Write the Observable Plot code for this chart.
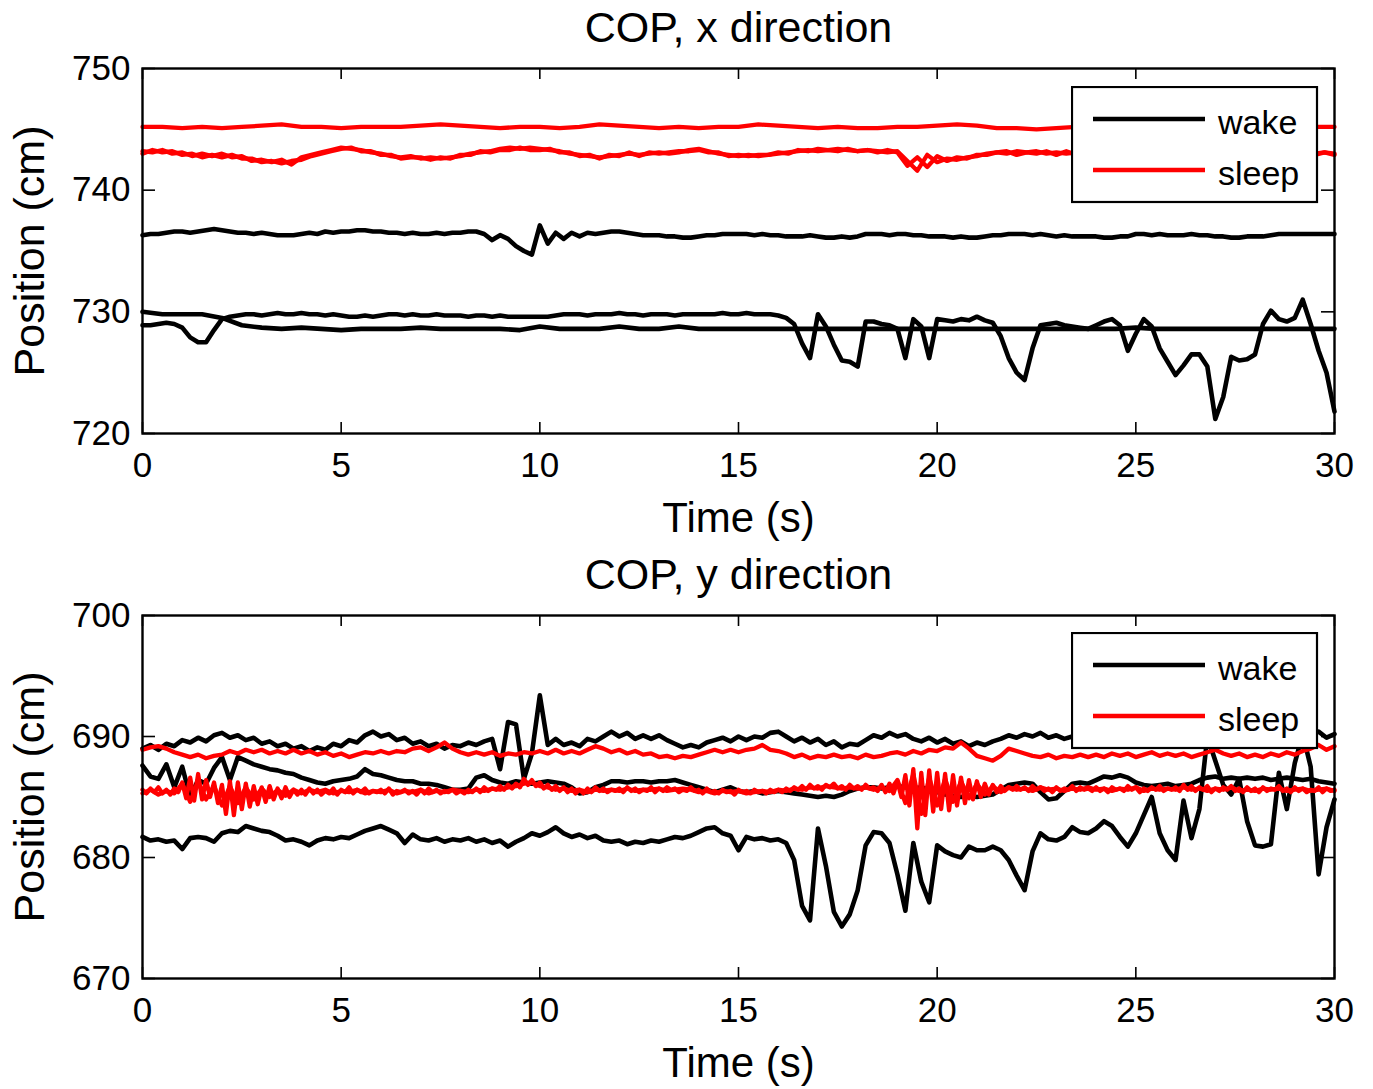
<!DOCTYPE html>
<html>
<head>
<meta charset="utf-8">
<script src="https://cdn.jsdelivr.net/npm/d3@7"></script>
<script src="https://cdn.jsdelivr.net/npm/@observablehq/plot@0.6"></script>
<style>
  html, body { margin: 0; padding: 0; background: #fff; }
  #fig { position: relative; width: 1373px; height: 1089px; overflow: hidden; background: #fff; }
  #fig > div, #fig > svg { position: absolute; }
</style>
</head>
<body>
<div id="fig"></div>
<script>
// ---------------- data ----------------
const timeDomain = [0, 30];
const xTicks = [0, 5, 10, 15, 20, 25, 30];
const yTicksX = [720, 730, 740, 750];
const yTicksY = [670, 680, 690, 700];
const titles = ["COP, x direction", "COP, y direction"];
const xLabel = "Time (s)";
const yLabel = "Position (cm)";
const legendLabels = ["wake", "sleep"];

// COP x direction, wake trials (evenly sampled over 0–30 s)
const wakeX1 = [
  736.3, 736.4, 736.4, 736.5, 736.6, 736.6, 736.5, 736.6, 736.7, 736.8,
  736.7, 736.6, 736.5, 736.5, 736.4, 736.5, 736.4, 736.3, 736.3, 736.3,
  736.4, 736.5, 736.4, 736.6, 736.5, 736.6, 736.6, 736.7, 736.7, 736.6,
  736.6, 736.5, 736.5, 736.4, 736.5, 736.4, 736.4, 736.5, 736.4, 736.5,
  736.5, 736.6, 736.6, 736.4, 735.9, 736.3, 736.0, 735.4, 735.0, 734.7,
  737.1, 735.6, 736.5, 736.0, 736.5, 736.2, 736.5, 736.4, 736.5, 736.6,
  736.6, 736.5, 736.4, 736.3, 736.3, 736.3, 736.2, 736.2, 736.1, 736.1,
  736.2, 736.3, 736.3, 736.4, 736.4, 736.4, 736.4, 736.3, 736.4, 736.3,
  736.3, 736.2, 736.2, 736.2, 736.3, 736.2, 736.1, 736.1, 736.2, 736.1,
  736.2, 736.4, 736.4, 736.4, 736.3, 736.4, 736.4, 736.3, 736.3, 736.2,
  736.2, 736.2, 736.1, 736.2, 736.1, 736.1, 736.2, 736.3, 736.3, 736.4,
  736.4, 736.4, 736.3, 736.4, 736.3, 736.2, 736.3, 736.2, 736.2, 736.2,
  736.2, 736.1, 736.1, 736.2, 736.2, 736.4, 736.4, 736.3, 736.4, 736.3,
  736.3, 736.3, 736.4, 736.3, 736.3, 736.2, 736.2, 736.1, 736.1, 736.2,
  736.2, 736.2, 736.3, 736.4, 736.4, 736.4, 736.4, 736.4, 736.4, 736.4,
  736.4
];
const wakeX2 = [
  730.0, 729.8, 729.8, 729.8,
  729.5, 728.9, 728.7, 728.6,
  728.7, 728.6, 728.5, 728.6,
  728.6, 728.6, 728.7, 728.6,
  728.6, 728.6, 728.6, 728.5,
  728.8, 728.6, 728.6, 728.6,
  728.8, 728.6, 728.6, 728.8,
  728.6, 728.6, 728.6, 728.6,
  728.6, 728.6, 728.6, 728.6,
  728.6, 728.6, 728.6, 728.6,
  728.6, 728.6, 728.6, 728.6,
  728.6, 728.6, 728.6, 728.6,
  728.6, 728.6, 728.7, 728.6,
  728.6, 728.6, 728.6, 728.6,
  728.6, 728.6, 728.6, 728.6,
  728.6
];
const wakeX3 = [
  728.9, 728.9, 729.0, 729.1, 729.0, 728.7, 727.9, 727.5, 727.5, 728.5,
  729.4, 729.6, 729.7, 729.8, 729.8, 729.7, 729.8, 729.9, 729.8, 729.8,
  729.9, 729.8, 729.8, 729.7, 729.8, 729.7, 729.6, 729.6, 729.7, 729.6,
  729.7, 729.8, 729.8, 729.7, 729.8, 729.7, 729.7, 729.8, 729.7, 729.7,
  729.7, 729.6, 729.7, 729.7, 729.6, 729.7, 729.6, 729.6, 729.6, 729.6,
  729.6, 729.6, 729.7, 729.8, 729.8, 729.8, 729.7, 729.8, 729.8, 729.8,
  729.9, 729.8, 729.8, 729.7, 729.8, 729.8, 729.8, 729.7, 729.8, 729.8,
  729.8, 729.8, 729.8, 729.9, 729.8, 729.8, 729.9, 729.8, 729.8, 729.8,
  729.7, 729.5, 729.0, 727.4, 726.2, 729.8, 728.8, 727.3, 726.0, 725.9,
  725.5, 729.2, 729.2, 729.0, 728.9, 728.6, 726.2, 729.4, 728.8, 726.2,
  729.4, 729.3, 729.2, 729.4, 729.3, 729.6, 729.3, 729.1, 728.0, 726.2,
  725.0, 724.4, 727.0, 728.9, 729.0, 729.1, 728.9, 728.8, 728.7, 728.6,
  728.9, 729.2, 729.4, 728.9, 726.8, 728.2, 729.4, 728.8, 727.0, 725.9,
  724.8, 725.6, 726.5, 726.5, 725.5, 721.2, 723.0, 726.3, 726.0, 726.1,
  726.5, 729.0, 730.1, 729.4, 729.2, 729.5, 731.0, 729.0, 726.8, 725.0,
  721.8
];

// COP x direction, sleep trials
const sleepX1 = [
  745.2, 745.2, 745.1, 745.2,
  745.1, 745.2, 745.3, 745.4,
  745.2, 745.2, 745.1, 745.2,
  745.2, 745.2, 745.3, 745.4,
  745.3, 745.2, 745.1, 745.2,
  745.2, 745.1, 745.2, 745.4,
  745.3, 745.2, 745.1, 745.2,
  745.1, 745.2, 745.2, 745.4,
  745.3, 745.2, 745.1, 745.2,
  745.1, 745.1, 745.2, 745.2,
  745.3, 745.4, 745.3, 745.1,
  745.1, 745.0, 745.1, 745.2,
  745.2, 745.3, 745.2, 745.2,
  745.2, 745.2, 745.1, 745.2,
  745.2, 745.1, 745.2, 745.2,
  745.2
];
const sleepX2 = [
  743.2, 743.1, 743.3, 743.0, 743.1, 742.8, 743.0, 742.8,
  743.0, 742.7, 742.8, 742.4, 742.5, 742.3, 742.5, 742.1,
  742.7, 742.9, 743.1, 743.3, 743.5, 743.4, 743.3, 743.1,
  743.0, 742.8, 742.7, 742.8, 742.6, 742.7, 742.6, 742.7,
  742.8, 743.0, 743.1, 743.2, 743.4, 743.5, 743.4, 743.5,
  743.4, 743.3, 743.2, 743.0, 742.9, 742.8, 742.7, 742.8,
  742.9, 743.0, 742.9, 743.0, 743.1, 743.0, 743.1, 743.3,
  743.4, 743.2, 743.0, 742.9, 742.8, 742.9, 742.8, 742.9,
  743.0, 743.1, 743.2, 743.3, 743.2, 743.3, 743.4, 743.3,
  743.2, 743.3, 743.2, 743.1, 743.2, 742.4, 741.6, 742.9,
  742.3, 742.6, 742.5, 742.7, 742.8, 743.0, 743.1, 743.0,
  743.2, 743.1, 743.2, 743.0, 743.1, 743.0, 743.1, 743.0,
  742.9, 743.0, 743.1, 743.0, 742.9, 743.0, 743.1, 743.0,
  743.0, 742.9, 743.0, 743.1, 743.0, 742.9, 743.0, 743.1,
  743.0, 742.9, 743.0, 743.1, 743.0, 742.9, 743.0, 743.1,
  743.0
];
const sleepX3 = [
  743.0, 743.3, 743.1, 743.2, 742.9, 743.0, 742.7, 742.9,
  742.7, 742.9, 742.6, 742.6, 742.3, 742.4, 742.2, 742.4,
  742.5, 742.8, 743.0, 743.2, 743.4, 743.5, 743.2, 743.2,
  742.9, 742.9, 742.6, 742.7, 742.7, 742.5, 742.7, 742.6,
  742.9, 742.9, 743.2, 743.1, 743.3, 743.3, 743.5, 743.3,
  743.3, 743.4, 743.1, 743.1, 742.8, 742.9, 742.6, 742.9,
  742.8, 743.1, 742.8, 743.1, 743.0, 743.1, 743.2, 743.2,
  743.3, 743.1, 743.1, 742.8, 742.9, 742.8, 742.9, 742.9,
  743.1, 743.0, 743.3, 743.2, 743.4, 743.3, 743.2, 743.4,
  743.2, 743.3, 743.1, 743.3, 743.1, 742.0, 742.7, 741.9,
  742.8, 742.4, 742.7, 742.6, 742.9, 742.9, 743.1, 743.2,
  742.9, 743.1, 743.0, 743.2, 742.9, 743.2, 742.9, 743.1,
  743.0, 742.9, 743.1, 742.9, 743.1, 743.0, 742.9, 743.1,
  742.9, 743.0, 743.1, 742.9, 743.0, 743.1, 742.9, 743.0,
  743.1, 742.9, 743.0, 743.1, 742.9, 743.0, 742.9, 743.1,
  742.9
];

// COP y direction, wake trials
const wakeY1 = [
  689.0, 689.3, 688.9, 689.4, 689.2, 689.7, 689.5, 689.9, 689.6, 690.1,
  690.3, 689.9, 690.1, 689.7, 689.9, 689.4, 689.6, 689.2, 689.4, 689.0,
  689.2, 688.8, 689.1, 688.9, 689.4, 689.2, 689.7, 689.5, 690.1, 690.4,
  690.0, 690.2, 689.7, 689.9, 689.4, 689.6, 689.2, 689.4, 689.0, 689.3,
  689.2, 689.5, 689.3, 689.6, 689.8, 687.3, 691.2, 691.0, 686.5, 688.6,
  693.4, 689.3, 689.8, 689.3, 689.5, 689.2, 689.8, 689.6, 690.0, 690.4,
  690.0, 690.3, 689.8, 690.1, 689.8, 690.1, 689.7, 689.4, 689.1, 689.3,
  689.1, 689.5, 689.7, 689.9, 689.6, 690.0, 689.7, 690.0, 689.9, 690.3,
  690.4, 690.0, 689.6, 689.9, 689.5, 689.8, 689.3, 689.6, 689.1, 689.4,
  689.3, 689.7, 690.1, 689.9, 690.3, 690.0, 690.2, 689.8, 689.6, 689.9,
  689.5, 689.8, 689.4, 689.6, 689.2, 689.5, 689.3, 689.6, 689.8, 690.1,
  689.9, 690.2, 690.0, 690.3, 689.9, 690.1, 689.8, 690.0, 689.7, 689.9,
  689.8, 690.1, 689.9, 690.2, 689.8, 690.0, 689.7, 689.9, 689.6, 689.9,
  689.7, 690.0, 689.8, 690.1, 689.9, 690.2, 689.8, 690.0, 689.7, 689.9,
  689.8, 690.0, 689.7, 690.1, 689.9, 690.3, 690.0, 690.2, 690.4, 689.9,
  690.2
];
const wakeY2 = [
  687.6, 686.7, 686.5, 687.7, 685.8, 687.5, 685.0, 686.4, 686.1, 687.4,
  688.3, 686.4, 688.3, 688.0, 687.7, 687.5, 687.3, 687.2, 687.0, 686.9,
  686.6, 686.4, 686.2, 686.1, 686.3, 686.4, 686.5, 686.7, 687.3, 686.9,
  686.8, 686.6, 686.4, 686.3, 686.3, 686.1, 686.1, 686.0, 685.8, 685.6,
  685.6, 685.7, 686.6, 686.8, 686.4, 686.2, 686.1, 686.3, 686.2, 686.1,
  686.2, 686.3, 686.2, 686.1, 685.8, 685.3, 685.4, 685.8, 686.0, 686.3,
  686.3, 686.2, 686.3, 686.3, 686.2, 686.3, 686.3, 686.4, 686.2, 686.0,
  685.8, 685.6, 685.4, 685.6, 685.8, 685.5, 685.4, 685.5, 685.3, 685.4,
  685.5, 685.4, 685.3, 685.2, 685.1, 685.0, 685.1, 685.0, 685.2, 685.5,
  685.7, 685.8, 685.8, 685.7, 685.8, 685.9, 685.8, 685.7, 685.8, 685.6,
  685.4, 685.2, 685.1, 685.0, 685.1, 685.0, 685.1, 685.2, 685.6, 686.0,
  686.1, 686.2, 686.1, 685.4, 684.8, 684.9, 685.5, 686.1, 686.2, 686.1,
  686.4, 686.7, 686.6, 686.8, 686.6, 686.2, 686.0, 685.9, 686.0, 686.1,
  685.9, 686.0, 686.1, 686.4, 686.6, 686.7, 686.5, 686.6, 686.5, 686.6,
  686.5, 686.6, 686.4, 686.5, 686.6, 686.5, 686.4, 686.5, 686.3, 686.2,
  686.1
];
const wakeY3 = [
  681.7, 681.4, 681.5, 681.3, 681.4, 680.7, 681.6, 681.7, 681.6, 681.3,
  682.0, 682.2, 682.1, 682.6, 682.4, 682.2, 682.1, 681.8, 681.4, 681.5,
  681.3, 681.0, 681.4, 681.6, 681.5, 681.7, 681.6, 681.9, 682.2, 682.4,
  682.6, 682.3, 682.0, 681.2, 681.9, 681.5, 681.4, 681.6, 681.3, 681.5,
  681.4, 681.6, 681.3, 681.5, 681.2, 681.4, 680.9, 681.3, 681.6, 682.0,
  681.8, 682.1, 682.5, 682.0, 681.7, 681.9, 681.6, 681.8, 681.4, 681.3,
  681.4, 681.1, 681.3, 681.2, 681.4, 681.3, 681.5, 681.7, 681.6, 681.8,
  682.1, 682.4, 682.5, 682.0, 681.8, 680.6, 681.7, 681.5, 681.6, 681.4,
  681.5, 681.2, 679.8, 676.0, 674.8, 682.4, 679.3, 675.5, 674.3, 675.3,
  677.3, 681.0, 682.1, 682.0, 681.2, 678.6, 675.6, 681.2, 678.0, 676.3,
  681.0, 680.5, 680.2, 680.0, 680.9, 680.6, 680.6, 680.9, 680.6, 679.8,
  678.5, 677.3, 680.5, 682.0, 681.5, 681.4, 681.7, 682.5, 682.1, 682.0,
  682.4, 683.0, 682.6, 681.7, 680.9, 682.0, 683.5, 685.0, 682.0, 680.6,
  679.8, 684.7, 681.6, 684.0, 690.0, 688.0, 686.0, 685.2, 686.5, 683.0,
  681.0, 680.9, 681.1, 687.0, 684.0, 687.8, 690.2, 687.5, 678.6, 682.5,
  684.8
];

// COP y direction, sleep trials
const sleepY1 = [
  688.9, 689.1, 689.2, 689.0, 688.7, 688.5, 688.3, 688.5, 688.2, 688.4,
  688.5, 688.8, 688.6, 688.9, 688.7, 688.9, 688.6, 688.8, 688.6, 688.9,
  688.6, 688.8, 688.5, 688.7, 688.4, 688.6, 688.3, 688.5, 688.7, 688.6,
  688.8, 688.6, 688.8, 688.7, 689.0, 689.1, 688.8, 689.1, 689.5, 689.0,
  688.7, 688.5, 688.7, 688.5, 688.7, 688.4, 688.6, 688.5, 688.7, 688.6,
  688.8, 688.6, 688.9, 688.6, 688.8, 688.6, 688.9, 689.2, 689.0, 688.7,
  688.9, 688.6, 688.8, 688.5, 688.6, 688.3, 688.4, 688.2, 688.4, 688.3,
  688.5, 688.7, 688.9, 688.7, 688.9, 688.7, 688.9, 689.0, 689.3, 688.9,
  688.8, 688.6, 688.3, 688.5, 688.2, 688.4, 688.3, 688.5, 688.3, 688.4,
  688.2, 688.5, 688.3, 688.4, 688.6, 688.7, 688.5, 688.8, 688.6, 688.9,
  688.8, 689.1, 689.0, 689.5, 689.0, 688.4, 688.2, 688.0, 688.4, 689.0,
  688.8, 688.6, 688.4, 688.3, 688.5, 688.2, 688.4, 688.3, 688.5, 688.3,
  688.5, 688.3, 688.6, 688.4, 688.6, 688.3, 688.5, 688.7, 688.4, 688.6,
  688.4, 688.6, 688.3, 688.5, 688.7, 688.9, 688.6, 688.4, 688.6, 688.3,
  688.5, 688.3, 688.6, 688.4, 688.7, 688.5, 688.8, 689.0, 689.3, 688.9,
  689.2
];
const sleepY2 = [
  685.6, 685.3, 685.7, 685.4, 685.8, 685.3, 685.6, 685.2, 685.7, 685.4, 686.2, 684.9, 686.6, 684.7, 686.9, 684.8, 686.4, 685.0, 686.2, 684.5,
  686.0, 683.6, 686.3, 683.5, 686.2, 684.0, 686.1, 684.2, 685.9, 684.4, 685.8, 684.6, 685.9, 684.8, 685.7, 684.9, 685.8, 685.0, 685.6, 685.2,
  685.6, 685.2, 685.7, 685.3, 685.6, 685.2, 685.5, 685.3, 685.7, 685.2, 685.6, 685.4, 685.8, 685.3, 685.6, 685.4, 685.7, 685.3, 685.5, 685.4,
  685.6, 685.3, 685.7, 685.2, 685.5, 685.4, 685.6, 685.3, 685.5, 685.2, 685.6, 685.3, 685.7, 685.4, 685.6, 685.3, 685.5, 685.4, 685.6, 685.3,
  685.5, 685.3, 685.6, 685.4, 685.7, 685.4, 685.8, 685.5, 685.7, 685.6, 685.9, 685.6, 686.0, 685.7, 686.1, 685.8, 686.5, 686.0, 686.4, 685.9,
  686.2, 685.7, 686.0, 685.6, 685.9, 685.5, 685.8, 685.4, 685.7, 685.3, 685.6, 685.3, 685.7, 685.4, 685.8, 685.5, 685.7, 685.4, 685.6, 685.5,
  685.7, 685.4, 685.8, 685.5, 685.7, 685.4, 685.6, 685.5, 685.8, 685.4, 685.7, 685.5, 685.8, 685.6, 685.7, 685.4, 685.6, 685.5, 685.8, 685.5,
  685.6, 685.3, 685.7, 685.4, 685.5, 685.3, 685.6, 685.4, 685.5, 685.2, 685.6, 685.4, 685.5, 685.3, 685.6, 685.4, 685.5, 685.3, 685.6, 685.4,
  685.6, 685.4, 685.7, 685.5, 685.8, 685.6, 685.9, 685.6, 686.0, 685.7, 685.9, 685.6, 686.0, 685.8, 686.1, 685.7, 685.9, 685.6, 686.0, 685.7,
  685.9, 685.6, 686.0, 685.7, 685.8, 685.5, 686.0, 685.4, 686.1, 685.3, 686.3, 685.0, 686.8, 684.3, 687.3, 682.4, 687.0, 683.5, 687.2, 683.8,
  687.0, 684.0, 686.9, 683.9, 686.8, 684.3, 686.6, 684.5, 686.4, 684.8, 686.3, 685.0, 686.1, 685.2, 686.0, 685.4, 685.9, 685.5, 685.8, 685.6,
  685.9, 685.6, 685.8, 685.5, 685.9, 685.6, 685.8, 685.5, 685.7, 685.4, 685.8, 685.5, 685.7, 685.6, 685.9, 685.5, 685.8, 685.6, 685.7, 685.5,
  685.8, 685.5, 685.7, 685.4, 685.8, 685.6, 685.7, 685.5, 685.9, 685.6, 685.8, 685.4, 685.7, 685.5, 685.8, 685.6, 685.9, 685.5, 685.7, 685.6,
  685.8, 685.5, 686.0, 685.6, 685.9, 685.5, 685.8, 685.6, 685.9, 685.4, 685.7, 685.5, 685.8, 685.6, 685.9, 685.5, 685.7, 685.4, 685.8, 685.5,
  685.7, 685.4, 685.8, 685.5, 685.7, 685.6, 685.9, 685.5, 685.7, 685.4, 685.8, 685.5, 685.7, 685.4, 685.6, 685.5, 685.8, 685.4, 685.7, 685.5,
  685.6
];
const sleepY3 = [
  685.3, 685.6, 685.2, 685.5, 685.3, 686.1, 684.6, 686.3, 684.8, 685.9,
  684.3, 685.9, 684.5, 685.8, 684.8, 685.7, 685.0, 685.6, 685.1, 685.6,
  685.3, 685.6, 685.4, 685.6, 685.3, 685.5, 685.4, 685.6, 685.3, 685.5,
  685.4, 685.6, 685.3, 685.5, 685.4, 685.6, 685.3, 685.5, 685.4, 685.6,
  685.5, 685.4, 685.6, 685.5, 685.7, 685.6, 685.8, 685.9, 686.1, 686.2,
  685.9, 685.8, 685.6, 685.7, 685.5, 685.6, 685.4, 685.6, 685.5, 685.6,
  685.5, 685.7, 685.5, 685.6, 685.6, 685.7, 685.5, 685.6, 685.7, 685.6,
  685.4, 685.5, 685.3, 685.5, 685.4, 685.5, 685.3, 685.4, 685.5, 685.4,
  685.6, 685.5, 685.7, 685.6, 685.8, 685.7, 685.9, 685.8, 685.7, 685.8,
  685.7, 685.8, 685.6, 685.8, 685.5, 686.4, 684.5, 686.9, 683.6, 686.6,
  684.3, 686.5, 684.6, 686.3, 684.9, 686.1, 685.2, 685.9, 685.4, 685.8,
  685.6, 685.7, 685.5, 685.8, 685.6, 685.7, 685.5, 685.7, 685.6, 685.8,
  685.6, 685.7, 685.5, 685.7, 685.6, 685.8, 685.5, 685.7, 685.6, 685.7,
  685.6, 685.8, 685.6, 685.7, 685.5, 685.7, 685.6, 685.8, 685.5, 685.6,
  685.5, 685.7, 685.6, 685.7, 685.5, 685.6, 685.7, 685.5, 685.6, 685.7,
  685.5
];

// ---------------- helpers ----------------
const FONT = "'Liberation Sans', Arial, Helvetica, sans-serif";
const W = 1373;
const ML = 142, MR = 39;

function toRows(values, series) {
  const step = (timeDomain[1] - timeDomain[0]) / (values.length - 1);
  return values.map((v, i) => ({t: timeDomain[0] + i * step, v, series}));
}

const fig = d3.select("#fig");

function panel({top, height, mt, mb, yDomain, yTicks, title, wake, sleep}) {
  const fh = height - mt - mb;
  const fw = W - ML - MR;
  const chart = Plot.plot({
    width: W, height,
    marginLeft: ML, marginRight: MR, marginTop: mt, marginBottom: mb,
    style: {background: "white", color: "black", fontFamily: FONT, overflow: "visible"},
    x: {domain: timeDomain},
    y: {domain: yDomain},
    marks: [
      Plot.line(wake, {x: "t", y: "v", z: "series", stroke: "black", strokeWidth: 4.6}),
      Plot.line(sleep, {x: "t", y: "v", z: "series", stroke: "#ff0000", strokeWidth: 4.3}),
      Plot.tickX(xTicks, {x: d => d, insetTop: fh - 11, stroke: "black", strokeWidth: 1.6}),
      Plot.tickX(xTicks, {x: d => d, insetBottom: fh - 11, stroke: "black", strokeWidth: 1.6}),
      Plot.tickY(yTicks, {y: d => d, insetRight: fw - 13, stroke: "black", strokeWidth: 1.6}),
      Plot.tickY(yTicks, {y: d => d, insetLeft: fw - 13, stroke: "black", strokeWidth: 1.6}),
      Plot.frame({stroke: "black", strokeWidth: 2.4}),
      Plot.axisX({ticks: xTicks, tickSize: 0, tickPadding: 19, fontSize: 35, label: null}),
      Plot.axisY({ticks: yTicks, tickSize: 0, tickPadding: 12, fontSize: 35, label: null}),
      Plot.text([xLabel], {frameAnchor: "bottom", dy: 85, fontSize: 42, textAnchor: "middle", lineAnchor: "middle"}),
      Plot.text([yLabel], {frameAnchor: "left", dx: -112, rotate: -90, fontSize: 43, textAnchor: "middle", lineAnchor: "middle"}),
      Plot.text([title], {frameAnchor: "top", dy: -40, fontSize: 43, textAnchor: "middle", lineAnchor: "middle"})
    ]
  });
  fig.append("div").style("left", "0px").style("top", top + "px").node().appendChild(chart);
}

function legend(top) {
  const svg = fig.append("svg")
    .style("left", "1071px").style("top", top + "px")
    .attr("width", 248).attr("height", 118);
  svg.append("rect").attr("x", 1).attr("y", 1).attr("width", 245).attr("height", 115)
    .attr("fill", "white").attr("stroke", "black").attr("stroke-width", 2.2);
  const colors = ["black", "#ff0000"];
  legendLabels.forEach((lab, i) => {
    const y = 33 + i * 51;
    svg.append("line").attr("x1", 22).attr("x2", 134).attr("y1", y).attr("y2", y)
      .attr("stroke", colors[i]).attr("stroke-width", 4.4);
    svg.append("text").attr("x", 147).attr("y", y + 15)
      .attr("font-family", FONT).attr("font-size", 34).attr("fill", "black").text(lab);
  });
}

panel({
  top: 0, height: 545, mt: 68, mb: 112,
  yDomain: [720, 750], yTicks: yTicksX, title: titles[0],
  wake: [...toRows(wakeX1, "w1"), ...toRows(wakeX2, "w2"), ...toRows(wakeX3, "w3")],
  sleep: [...toRows(sleepX1, "s1"), ...toRows(sleepX2, "s2"), ...toRows(sleepX3, "s3")]
});
panel({
  top: 545, height: 544, mt: 70, mb: 111,
  yDomain: [670, 700], yTicks: yTicksY, title: titles[1],
  wake: [...toRows(wakeY1, "w1"), ...toRows(wakeY2, "w2"), ...toRows(wakeY3, "w3")],
  sleep: [...toRows(sleepY1, "s1"), ...toRows(sleepY2, "s2"), ...toRows(sleepY3, "s3")]
});
legend(86);
legend(632);
</script>
</body>
</html>
